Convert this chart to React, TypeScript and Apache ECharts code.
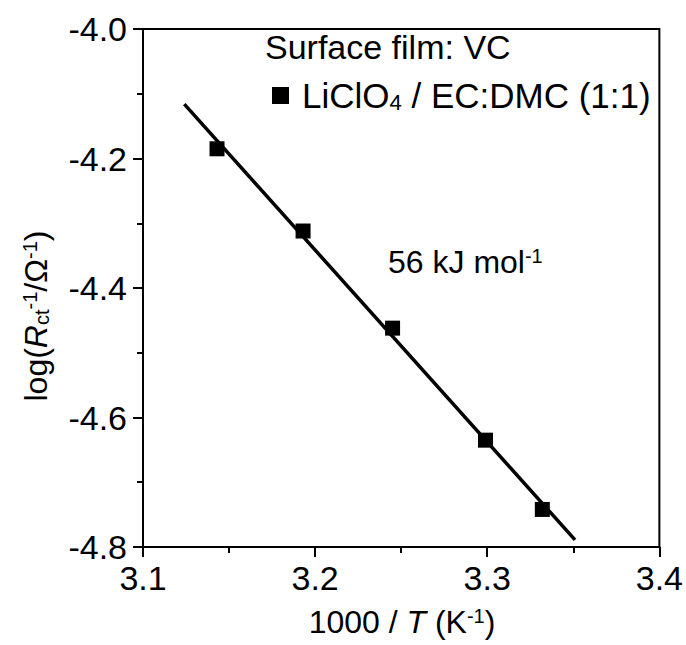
import React, { useEffect, useRef } from "react";
import * as echarts from "echarts";

const seriesName = "LiClO4 / EC:DMC (1:1)";
const invT = [3.143, 3.193, 3.245, 3.299, 3.332];
const logR = [-4.185, -4.312, -4.462, -4.635, -4.742];
const fitX = [3.124, 3.351];
const fitY = [-4.116, -4.789];
const xTicks = [3.1, 3.2, 3.3, 3.4];
const yTicks = [-4.8, -4.6, -4.4, -4.2, -4.0];

const FONT = "'Liberation Sans', Arial, Helvetica, sans-serif";

export default function App() {
  const ref = useRef<HTMLDivElement>(null);
  useEffect(() => {
    if (!ref.current) return;
    const chart = echarts.init(ref.current, undefined, { renderer: "svg" });
    const base = { fontFamily: FONT, color: "#000" };
    const mkRich = (fs: number, ss: number) => ({
      n: { fontSize: fs, fontFamily: FONT, color: "#000" },
      i: { fontSize: fs, fontFamily: FONT, fontStyle: "italic", color: "#000" },
      sup: { fontSize: ss, fontFamily: FONT, verticalAlign: "top", color: "#000" },
      sub: { fontSize: ss, fontFamily: FONT, verticalAlign: "bottom", color: "#000" },
    });
    const rich = mkRich(32, 20);
    const legendRich = mkRich(35, 22);
    chart.setOption({
      animation: false,
      backgroundColor: "#fff",
      grid: {
        left: 143,
        right: 26,
        top: 29,
        bottom: 98,
        show: true,
        borderColor: "#000",
        borderWidth: 2,
        backgroundColor: "transparent",
      },
      xAxis: {
        type: "value",
        min: xTicks[0],
        max: xTicks[xTicks.length - 1],
        interval: 0.1,
        axisLine: { show: true, lineStyle: { color: "#000", width: 2 } },
        axisTick: { show: true, length: 10, lineStyle: { color: "#000", width: 2 } },
        minorTick: { show: true, splitNumber: 2, length: 6, lineStyle: { color: "#000", width: 2 } },
        splitLine: { show: false },
        axisLabel: {
          ...base,
          fontSize: 34,
          margin: 14,
          formatter: (v: number) => v.toFixed(1),
        },
      },
      yAxis: {
        type: "value",
        min: yTicks[0],
        max: yTicks[yTicks.length - 1],
        interval: 0.2,
        axisLine: { show: true, lineStyle: { color: "#000", width: 2 } },
        axisTick: { show: true, length: 10, lineStyle: { color: "#000", width: 2 } },
        minorTick: { show: true, splitNumber: 2, length: 6, lineStyle: { color: "#000", width: 2 } },
        splitLine: { show: false },
        axisLabel: {
          ...base,
          fontSize: 34,
          margin: 16,
          formatter: (v: number) => v.toFixed(1),
        },
      },
      legend: {
        show: true,
        data: [seriesName],
        left: 272,
        top: 78,
        icon: "rect",
        itemWidth: 17,
        itemHeight: 17,
        itemGap: 0,
        padding: 0,
        itemStyle: { opacity: 1, color: "#000" },
        textStyle: { ...base, fontSize: 35, padding: [0, 0, 0, 8], rich: legendRich },
        formatter: () => "{n|LiClO}{sub|4}{n| / EC:DMC (1:1)}",
      },
      graphic: [
        {
          type: "text",
          left: 265,
          top: 30,
          style: { text: "Surface film: VC", fontSize: 34, fontFamily: FONT, fill: "#000" },
        },
        {
          type: "text",
          x: 388,
          y: 262,
          style: {
            text: "{n|56 kJ mol}{sup|-1}",
            rich,
            fill: "#000",
            align: "left",
            verticalAlign: "middle",
          },
        },
        {
          type: "text",
          x: 402,
          y: 622,
          style: {
            text: "{n|1000 / }{i|T}{n| (K}{sup|-1}{n|)}",
            rich,
            fill: "#000",
            align: "center",
            verticalAlign: "middle",
          },
        },
        {
          type: "text",
          x: 36,
          y: 316,
          rotation: Math.PI / 2,
          style: {
            text: "{n|log(}{i|R}{sub|ct}{sup|-1}{n|/Ω}{sup|-1}{n|)}",
            rich,
            fill: "#000",
            align: "center",
            verticalAlign: "middle",
          },
        },
      ],
      series: [
        {
          name: "fit",
          type: "line",
          data: fitX.map((x, i) => [x, fitY[i]]),
          showSymbol: false,
          symbol: "none",
          lineStyle: { color: "#000", width: 3.5 },
          z: 2,
        },
        {
          name: seriesName,
          type: "scatter",
          data: invT.map((x, i) => [x, logR[i]]),
          symbol: "rect",
          symbolSize: 15,
          itemStyle: { color: "#000", opacity: 1 },
          z: 3,
        },
      ],
    });
    return () => chart.dispose();
  }, []);
  return (
    <div
      ref={ref}
      style={{ position: "fixed", left: 0, top: 0, width: 686, height: 645, background: "#fff" }}
    />
  );
}
